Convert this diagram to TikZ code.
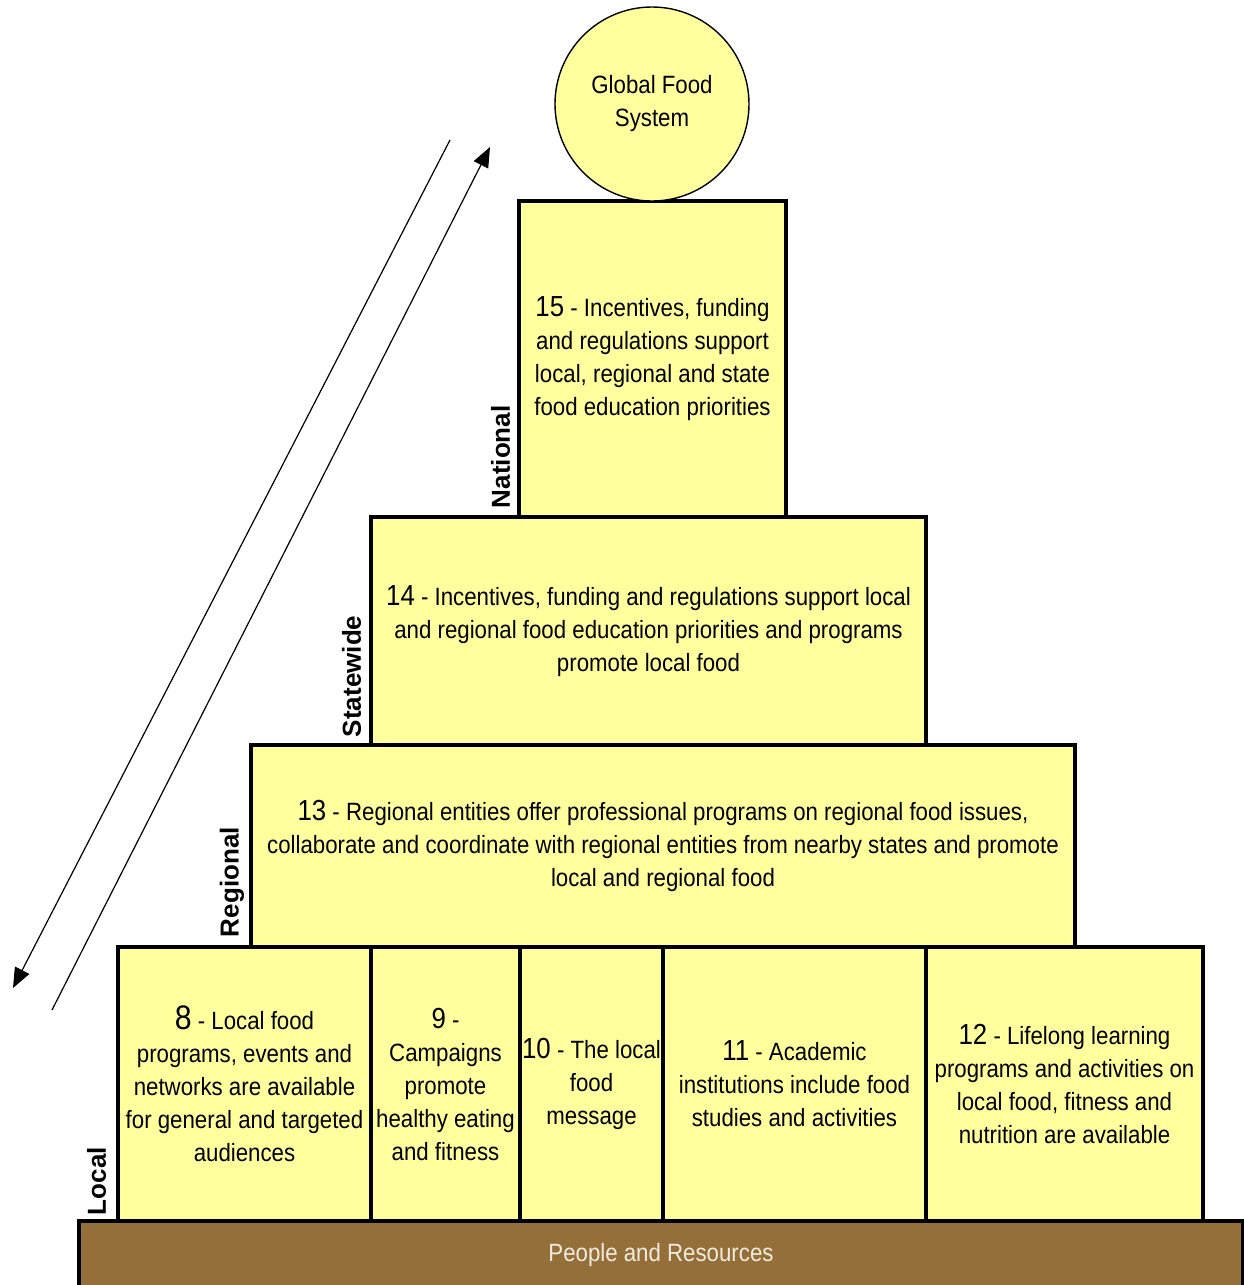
\documentclass[tikz,border=0pt]{standalone}
\usepackage{fontspec}
\setmainfont{Liberation Sans}[FakeStretch=0.89]
\newfontfamily\levelfont{Liberation Sans}
\usepackage{xcolor}
\definecolor{pyellow}{RGB}{255,255,158}
\definecolor{soil}{RGB}{148,111,58}
\definecolor{cream}{RGB}{242,236,222}
\usepackage{tikz}
\usetikzlibrary{arrows.meta}
\usetikzlibrary{calc}
\newcommand\tiernum[1]{{\fontsize{14.5}{16.5}\selectfont #1}}

\begin{document}
\begin{tikzpicture}[x=0.5pt,y=-0.5pt,
  tier/.style={draw,line width=2.4pt,fill=pyellow,inner sep=0pt,align=center,
    font=\fontsize{12.5}{16.5}\selectfont},
  level/.style={rotate=90,anchor=south west,inner sep=1pt,
    font=\levelfont\bfseries\fontsize{13}{15}\selectfont},
  updown/.style={line width=0.6pt,-{Triangle[length=10pt,width=8pt]}}]
\useasboundingbox (0,0) rectangle (1243,1285);
% ground
\node (ground) at (661,1255) [tier,fill=soil,text=cream,minimum width=582pt,minimum height=34pt]{People and Resources};
% local tier
\node (t8) at (244.5,1084) [tier,minimum width=126.5pt,minimum height=137pt]{{\fontsize{17}{16.5}\selectfont 8} - Local food\\programs, events and\\networks are available\\for general and targeted\\audiences};
\node (t9) at (445.5,1084) [tier,minimum width=74.5pt,minimum height=137pt]{\tiernum{9} -\\Campaigns\\promote\\healthy eating\\and fitness};
\node (t10) at (591.5,1084) [tier,minimum width=71.5pt,minimum height=137pt]{\tiernum{10} - The local\\food\\message};
\node (t11) at (794.5,1084) [tier,minimum width=131.5pt,minimum height=137pt]{\tiernum{11} - Academic\\institutions include food\\studies and activities};
\node (t12) at (1064.5,1084) [tier,minimum width=138.5pt,minimum height=137pt]{\tiernum{12} - Lifelong learning\\programs and activities on\\local food, fitness and\\nutrition are available};
% regional, statewide, national
\node (t13) at (663,846) [tier,minimum width=412pt,minimum height=101pt]{\tiernum{13} - Regional entities offer professional programs on regional food issues,\\collaborate and coordinate with regional entities from nearby states and promote\\local and regional food};
\node (t14) at (648.5,631) [tier,minimum width=277.5pt,minimum height=114pt]{\tiernum{14} - Incentives, funding and regulations support local\\and regional food education priorities and programs\\promote local food};
\node (t15) at (652.5,359) [tier,minimum width=133.5pt,minimum height=158pt]{\tiernum{15} - Incentives, funding\\and regulations support\\local, regional and state\\food education priorities};
\node (globe) at (652,104) [tier,circle,line width=0.7pt,minimum size=97pt]{Global Food\\System};
% level labels
\node at ($(t15.south west)+(-4,-9)$) [level]{National};
\node at ($(t14.south west)+(-5,-8)$) [level]{Statewide};
\node at ($(t13.south west)+(-2,-10)$) [level]{Regional};
\node at ($(t8.south west)+(-7,-6)$) [level]{Local};
% scale arrows
\coordinate (downtop) at (450,140);
\coordinate (downend) at (13,988);
\coordinate (upfoot) at (52,1010);
\coordinate (uptip) at (490,147);
\draw[updown] (downtop) -- (downend);
\draw[updown] (upfoot) -- (uptip);
\end{tikzpicture}
\end{document}
